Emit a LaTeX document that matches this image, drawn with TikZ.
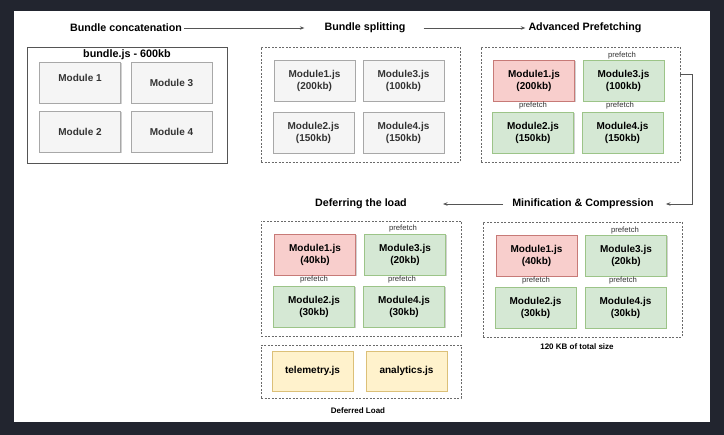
\documentclass[tikz,border=0pt]{standalone}
\usepackage{fontspec}
\setmainfont{Liberation Sans}
\usetikzlibrary{arrows.meta,shadows,calc}
\definecolor{bgdark}{HTML}{22252F}
\definecolor{gfill}{HTML}{F5F5F5}
\definecolor{gline}{HTML}{A8A8A8}
\definecolor{rfill}{HTML}{F8CECC}
\definecolor{rline}{HTML}{C77A77}
\definecolor{grfill}{HTML}{D5E8D4}
\definecolor{grline}{HTML}{9CC488}
\definecolor{yfill}{HTML}{FFF2CC}
\definecolor{yline}{HTML}{DCC078}
\definecolor{txtgray}{HTML}{333333}
\definecolor{dashcol}{HTML}{6A6A6A}
\definecolor{conncol}{HTML}{555555}
\begin{document}
\begin{tikzpicture}[x=1pt,y=-1pt,
  modbox/.style={draw, line width=0.8pt, minimum width=81pt, minimum height=41pt,
    inner sep=0pt, align=center, font=\fontsize{10}{12}\selectfont\bfseries,
    drop shadow={shadow xshift=1pt, shadow yshift=-1pt, opacity=0.18, fill=black}},
  graymod/.style={modbox, fill=gfill, draw=gline, text=txtgray},
  redmod/.style={modbox, fill=rfill, draw=rline, text=black},
  greenmod/.style={modbox, fill=grfill, draw=grline, text=black},
  yellowmod/.style={modbox, fill=yfill, draw=yline, text=black},
  dbox/.style={draw=dashcol, dash pattern=on 2pt off 1.5pt, line width=0.8pt, inner sep=0pt},
  title/.style={font=\fontsize{10.7}{12}\selectfont\bfseries, inner sep=0pt, text=black},
  pf/.style={font=\fontsize{7.7}{9}\selectfont, text=txtgray, inner sep=0pt},
  small/.style={font=\fontsize{8}{10}\selectfont\bfseries, inner sep=0pt, text=black},
  conn/.style={draw=conncol, line width=0.8pt},
  arr/.style={conn, -{Stealth[length=4.5pt,width=3.5pt]}}
]
\useasboundingbox (0,0) rectangle (724,435);
\fill[bgdark] (0,0) rectangle (724,435);
\fill[white] (14,11) rectangle (710,422);

% titles
\node[title] (t1) at (126,28) {Bundle concatenation};
\node[title] (t2) at (365,28) {Bundle splitting};
\node[title] (t3) at (585,28) {Advanced Prefetching};
\node[title] (t4) at (583,204) {Minification \& Compression};
\node[title] (t5) at (361,204) {Deferring the load};

% block 1: bundle
\node[draw=conncol, line width=0.8pt, fill=white, minimum width=200pt, minimum height=116pt, inner sep=0pt,
  drop shadow={shadow xshift=1pt, shadow yshift=-1pt, opacity=0.18, fill=black}] (b1) at (127,105) {};
\node[font=\fontsize{10.8}{12}\selectfont\bfseries, inner sep=0pt, anchor=base] (b1t) at (127,57.5) {bundle.js - 600kb};
\node[graymod] (b1m1) at (80,82.5) {\raisebox{1pt}[0pt][0pt]{Module 1}};
\node[graymod] (b1m3) at (171.5,82.5) {Module 3};
\node[graymod] (b1m2) at (80,131.5) {Module 2};
\node[graymod] (b1m4) at (171.5,131.5) {Module 4};

% block 2: splitting
\node[dbox, minimum width=199pt, minimum height=115pt] (b2) at (360.5,104.5) {};
\node[graymod] (b2m1) at (314.5,81) {Module1.js\\(200kb)};
\node[graymod] (b2m3) at (403.5,81) {Module3.js\\(100kb)};
\node[graymod] (b2m2) at (313.5,132.5) {Module2.js\\(150kb)};
\node[graymod] (b2m4) at (403.5,132.5) {Module4.js\\(150kb)};

% block 3: prefetching
\node[dbox, minimum width=199pt, minimum height=115pt] (b3) at (580.5,104.5) {};
\node[redmod] (b3m1) at (534,81) {Module1.js\\(200kb)};
\node[greenmod] (b3m3) at (623.5,81) {Module3.js\\(100kb)};
\node[greenmod] (b3m2) at (533,132.5) {Module2.js\\(150kb)};
\node[greenmod] (b3m4) at (622.5,132.5) {Module4.js\\(150kb)};
\node[pf] (b3p3) at (622,56) {prefetch};
\node[pf] (b3p2) at (533,106) {prefetch};
\node[pf] (b3p4) at (620,106) {prefetch};

% block 4: minification
\node[dbox, minimum width=199pt, minimum height=115pt] (b4) at (582.5,279.5) {};
\node[redmod] (b4m1) at (536.5,256) {Module1.js\\(40kb)};
\node[greenmod] (b4m3) at (626,256) {Module3.js\\(20kb)};
\node[greenmod] (b4m2) at (535.5,307.5) {Module2.js\\(30kb)};
\node[greenmod] (b4m4) at (625.5,307.5) {Module4.js\\(30kb)};
\node[pf] (b4p3) at (625,231) {prefetch};
\node[pf] (b4p2) at (536,281) {prefetch};
\node[pf] (b4p4) at (623,281) {prefetch};
\node[small] (b4note) at (577,347) {120 KB of total size};

% block 5: deferring
\node[dbox, minimum width=200pt, minimum height=115pt] (b5) at (361,278.5) {};
\node[redmod] (b5m1) at (315,254.5) {Module1.js\\(40kb)};
\node[greenmod] (b5m3) at (405,254.5) {Module3.js\\(20kb)};
\node[greenmod] (b5m2) at (314,306.5) {Module2.js\\(30kb)};
\node[greenmod] (b5m4) at (404,306.5) {Module4.js\\(30kb)};
\node[pf] (b5p3) at (403,229) {prefetch};
\node[pf] (b5p2) at (314,280) {prefetch};
\node[pf] (b5p4) at (402,280) {prefetch};
\node[dbox, minimum width=200pt, minimum height=53pt] (b6) at (361,371.5) {};
\node[yellowmod, minimum height=40pt] (b6m1) at (312.5,371) {telemetry.js};
\node[yellowmod, minimum height=40pt] (b6m2) at (406.5,371) {analytics.js};
\node[small] (b6note) at (358,411) {Deferred Load};

% connectors
\draw[arr] ([xshift=2pt]t1.east) -- ([xshift=-20pt]t2.west);
\draw[arr] ([xshift=18pt]t2.east) -- ([xshift=-3pt]t3.west);
\draw[arr] ($(b3.north east)+(0,28)$) -- ++(12,0) |- ([xshift=12pt]t4.east);
\draw[arr] ([xshift=-9pt]t4.west) -- ([xshift=36pt]t5.east);
\end{tikzpicture}
\end{document}
